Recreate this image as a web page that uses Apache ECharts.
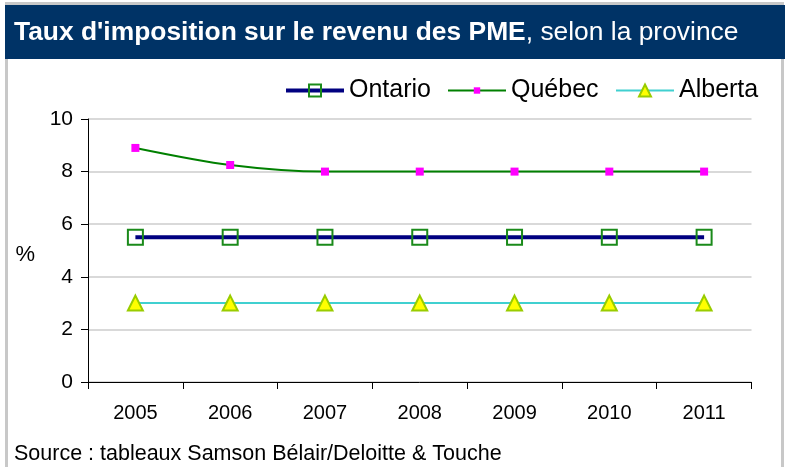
<!DOCTYPE html>
<html>
<head>
<meta charset="utf-8">
<script src="https://cdn.jsdelivr.net/npm/echarts@6/dist/echarts.min.js"></script>
<style>
html,body{margin:0;padding:0;background:#fff;}
#chart{width:785px;height:467px;}
</style>
</head>
<body>
<div id="chart"></div>
<script>
var years = ['2005','2006','2007','2008','2009','2010','2011'];
var ontario = [5.5, 5.5, 5.5, 5.5, 5.5, 5.5, 5.5];
var quebec = [8.9, 8.25, 8.0, 8.0, 8.0, 8.0, 8.0];
var alberta = [3, 3, 3, 3, 3, 3, 3];
var yTicks = [0, 2, 4, 6, 8, 10];
var seriesNames = ['Ontario', 'Québec', 'Alberta'];

var chart = echarts.init(document.getElementById('chart'), null, {renderer: 'canvas'});
var font = '"Liberation Sans", Arial, sans-serif';
function legendFor(name, left, itemHeight, lineWidth) {
  return {
    left: left, top: 78, padding: 0,
    itemWidth: 58, itemHeight: itemHeight, itemGap: 0,
    lineStyle: {width: lineWidth},
    textStyle: {fontFamily: font, fontSize: 25, color: '#000', padding: [0, 0, 0, 0]},
    data: [name]
  };
}
var option = {
  backgroundColor: '#ffffff',
  animation: false,
  textStyle: {fontFamily: font},
  graphic: [
    {type: 'rect', shape: {x: 6.5, y: 3.5, width: 776, height: 470}, style: {fill: 'none', stroke: '#c8c8c8', lineWidth: 3}, z: 0},
    {type: 'rect', shape: {x: 5, y: 5, width: 780, height: 54}, style: {fill: '#003366'}, z: 1},
    {type: 'text', left: 14, top: 443, style: {text: 'Source : tableaux Samson Bélair/Deloitte & Touche', font: '21.5px ' + font, fill: '#000'}, z: 5}
  ],
  title: {
    text: '{b|Taux d\'imposition sur le revenu des PME}{n|, selon la province}',
    left: 9, top: 15,
    textStyle: {
      rich: {
        b: {fontFamily: font, fontSize: 26.4, fontWeight: 'bold', color: '#fff'},
        n: {fontFamily: font, fontSize: 26.4, fontWeight: 'normal', color: '#fff'}
      }
    },
    z: 10
  },
  legend: [
    legendFor(seriesNames[0], 284, 15, 4),
    legendFor(seriesNames[1], 447, 8, 2),
    legendFor(seriesNames[2], 615, 15, 2)
  ],
  grid: {left: 88, right: 33.5, top: 119, bottom: 85, containLabel: false},
  xAxis: {
    type: 'category',
    data: years,
    boundaryGap: true,
    axisLine: {lineStyle: {color: '#000', width: 1}},
    axisTick: {show: true, length: 7, inside: false, lineStyle: {color: '#000'}},
    axisLabel: {fontFamily: font, fontSize: 20, color: '#000', margin: 21},
    splitLine: {show: false}
  },
  yAxis: {
    type: 'value',
    min: yTicks[0], max: yTicks[yTicks.length - 1], interval: 2,
    name: '%', nameLocation: 'middle', nameRotate: 0, nameGap: 53,
    nameTextStyle: {fontFamily: font, fontSize: 22, color: '#000', verticalAlign: 'top', lineHeight: 8},
    axisLine: {show: true, lineStyle: {color: '#000', width: 1}},
    axisTick: {show: true, length: 7, inside: false, lineStyle: {color: '#000'}},
    axisLabel: {fontFamily: font, fontSize: 21, color: '#000', margin: 15},
    splitLine: {show: true, lineStyle: {color: '#d9d9d9', width: 2}}
  },
  series: [
    {
      name: seriesNames[0], type: 'line', data: ontario,
      symbol: 'rect', symbolSize: 15,
      lineStyle: {color: '#000080', width: 4},
      itemStyle: {color: 'rgba(255,255,255,0)', borderColor: '#1a8a1a', borderWidth: 2},
      z: 3
    },
    {
      name: seriesNames[1], type: 'line', data: quebec,
      smooth: 0.3,
      symbol: 'rect', symbolSize: 8,
      lineStyle: {color: '#008000', width: 2},
      itemStyle: {color: '#ff00ff', borderWidth: 0},
      z: 3
    },
    {
      name: seriesNames[2], type: 'line', data: alberta,
      symbol: 'triangle', symbolSize: 15,
      lineStyle: {color: '#40d0d0', width: 2},
      itemStyle: {color: '#ffff00', borderColor: '#99cc00', borderWidth: 2},
      z: 3
    }
  ]
};
chart.setOption(option);
</script>
</body>
</html>
